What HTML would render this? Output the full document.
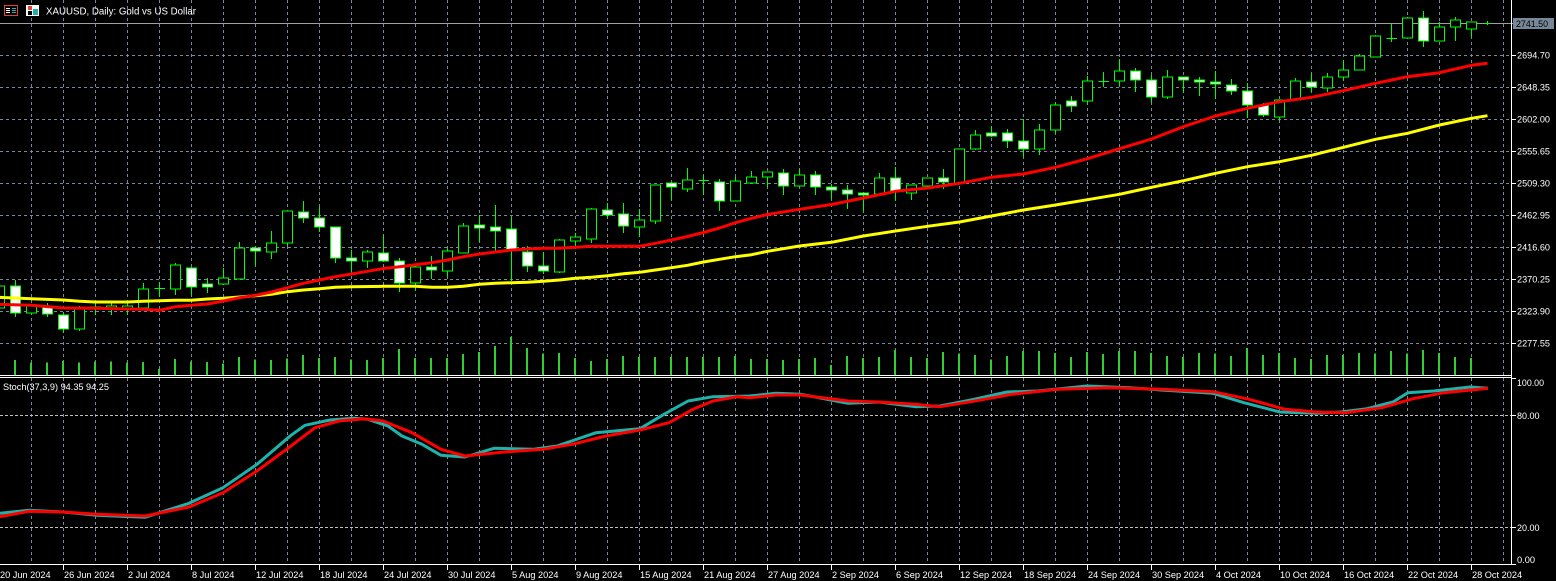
<!DOCTYPE html>
<html><head><meta charset="utf-8"><style>
html,body{margin:0;padding:0;background:#000;width:1556px;height:581px;overflow:hidden}
svg{display:block}
text{font-family:"Liberation Sans",Arial,sans-serif;fill:#fff}
</style></head><body>
<svg width="1556" height="581" viewBox="0 0 1556 581" xmlns="http://www.w3.org/2000/svg">
<rect width="1556" height="581" fill="#000"/>
<!-- vertical grid -->
<path stroke="#778899" stroke-width="1" stroke-dasharray="3,3" fill="none" shape-rendering="crispEdges" d="M31.5 0V564M63.5 0V564M95.5 0V564M127.5 0V564M159.5 0V564M191.5 0V564M223.5 0V564M255.5 0V564M287.5 0V564M319.5 0V564M351.5 0V564M383.5 0V564M415.5 0V564M447.5 0V564M479.5 0V564M511.5 0V564M543.5 0V564M575.5 0V564M607.5 0V564M639.5 0V564M671.5 0V564M703.5 0V564M735.5 0V564M767.5 0V564M799.5 0V564M831.5 0V564M863.5 0V564M895.5 0V564M927.5 0V564M959.5 0V564M991.5 0V564M1023.5 0V564M1055.5 0V564M1087.5 0V564M1119.5 0V564M1151.5 0V564M1183.5 0V564M1215.5 0V564M1247.5 0V564M1279.5 0V564M1311.5 0V564M1343.5 0V564M1375.5 0V564M1407.5 0V564M1439.5 0V564M1471.5 0V564M1503.5 0V564"/>
<!-- horizontal grid main -->
<path stroke="#778899" stroke-width="1" stroke-dasharray="3,3" fill="none" shape-rendering="crispEdges" d="M0 55.5H1511M0 87.5H1511M0 119.5H1511M0 151.5H1511M0 183.5H1511M0 215.5H1511M0 247.5H1511M0 279.5H1511M0 311.5H1511M0 343.5H1511"/>
<!-- stoch levels -->
<path stroke="#c0c0c0" stroke-width="1" stroke-dasharray="3,2" fill="none" shape-rendering="crispEdges" d="M0 415.5H1511M0 527.5H1511"/>
<!-- bid line -->
<path stroke="#a0a0a0" stroke-width="1" shape-rendering="crispEdges" d="M0 23.5H1513"/>

<!-- volumes -->
<path stroke="#32cd32" stroke-width="2" fill="none" shape-rendering="crispEdges" d="M15 360V375M31 362.7V375M47 362.7V375M63 361V375M79 362.7V375M95 361.7V375M111 361.7V375M127 362.7V375M143 362V375M159 369V375M175 359V375M191 361.7V375M207 362V375M223 363.7V375M239 357V375M255 359.7V375M271 360V375M287 358.7V375M303 355V375M319 358V375M335 357V375M351 359.7V375M367 360V375M383 358V375M399 349V375M415 358V375M431 358V375M447 358V375M463 354V375M479 352V375M495 346V375M511 337V375M527 348V375M543 353.7V375M559 353V375M575 358V375M591 361V375M607 359V375M623 356V375M639 357V375M655 357V375M671 357V375M687 357V375M703 357V375M719 357V375M735 356V375M751 359V375M767 359V375M783 360V375M799 359V375M815 358V375M831 365V375M847 356V375M863 358V375M879 357V375M895 350V375M911 357V375M927 358V375M943 352V375M959 353.7V375M975 355V375M991 359.7V375M1007 356V375M1023 351V375M1039 351V375M1055 353V375M1071 357V375M1087 352V375M1103 354V375M1119 351V375M1135 351V375M1151 353V375M1167 356V375M1183 357V375M1199 353V375M1215 353.7V375M1231 356V375M1247 348V375M1263 355V375M1279 353V375M1295 358V375M1311 359V375M1327 355V375M1343 355V375M1359 353V375M1375 353.7V375M1391 351V375M1407 353.7V375M1423 350V375M1439 353V375M1455 357V375M1471 358V375"/>

<!-- candles -->
<g stroke="#00ff00" stroke-width="1" shape-rendering="crispEdges">
<path d="M-0.5 282V312"/><rect x="-5.5" y="286" width="10" height="22" fill="#000"/>
<path d="M15.5 280V317"/><rect x="10.5" y="286" width="10" height="27" fill="#fff"/>
<path d="M31.5 304V314"/><rect x="26.5" y="306" width="10" height="7" fill="#000"/>
<path d="M47.5 303V317"/><rect x="42.5" y="306" width="10" height="8" fill="#fff"/>
<path d="M63.5 312V333"/><rect x="58.5" y="315" width="10" height="14" fill="#fff"/>
<path d="M79.5 306V331"/><rect x="74.5" y="309" width="10" height="20" fill="#000"/>
<path d="M95.5 300V315"/><rect x="90.5" y="307" width="10" height="2" fill="#000"/>
<path d="M111.5 303V315"/><rect x="106.5" y="306" width="10" height="2" fill="#000"/>
<path d="M127.5 300V315"/><rect x="122.5" y="306" width="10" height="2" fill="#000"/>
<path d="M143.5 283V310"/><rect x="138.5" y="289" width="10" height="19" fill="#000"/>
<path d="M159.5 282V297"/><path d="M154.5 288.5H165"/>
<path d="M175.5 263V295"/><rect x="170.5" y="265" width="10" height="24" fill="#000"/>
<path d="M191.5 267V295"/><rect x="186.5" y="268" width="10" height="19" fill="#fff"/>
<path d="M207.5 278V293"/><rect x="202.5" y="284" width="10" height="3" fill="#fff"/>
<path d="M223.5 268V285"/><rect x="218.5" y="278" width="10" height="6" fill="#000"/>
<path d="M239.5 242V279"/><rect x="234.5" y="248" width="10" height="31" fill="#000"/>
<path d="M255.5 246V266"/><rect x="250.5" y="248" width="10" height="3" fill="#fff"/>
<path d="M271.5 231V259"/><rect x="266.5" y="243" width="10" height="9" fill="#000"/>
<path d="M287.5 211V246"/><rect x="282.5" y="211" width="10" height="32" fill="#000"/>
<path d="M303.5 201V223"/><rect x="298.5" y="212" width="10" height="6" fill="#fff"/>
<path d="M319.5 207V232"/><rect x="314.5" y="218" width="10" height="9" fill="#fff"/>
<path d="M335.5 227V263"/><rect x="330.5" y="227" width="10" height="31" fill="#fff"/>
<path d="M351.5 250V272"/><rect x="346.5" y="258" width="10" height="3" fill="#fff"/>
<path d="M367.5 250V268"/><rect x="362.5" y="252" width="10" height="9" fill="#000"/>
<path d="M383.5 235V262"/><rect x="378.5" y="253" width="10" height="8" fill="#fff"/>
<path d="M399.5 258V292"/><rect x="394.5" y="261" width="10" height="22" fill="#fff"/>
<path d="M415.5 265V290"/><rect x="410.5" y="267" width="10" height="16" fill="#000"/>
<path d="M431.5 256V279"/><rect x="426.5" y="267" width="10" height="3" fill="#fff"/>
<path d="M447.5 248V277"/><rect x="442.5" y="251" width="10" height="20" fill="#000"/>
<path d="M463.5 223V253"/><rect x="458.5" y="226" width="10" height="27" fill="#000"/>
<path d="M479.5 215V242"/><rect x="474.5" y="225" width="10" height="3" fill="#fff"/>
<path d="M495.5 205V251"/><rect x="490.5" y="227" width="10" height="4" fill="#fff"/>
<path d="M511.5 217V281"/><rect x="506.5" y="229" width="10" height="21" fill="#fff"/>
<path d="M527.5 246V272"/><rect x="522.5" y="252" width="10" height="14" fill="#fff"/>
<path d="M543.5 252V274"/><rect x="538.5" y="266" width="10" height="5" fill="#fff"/>
<path d="M559.5 239V273"/><rect x="554.5" y="240" width="10" height="32" fill="#000"/>
<path d="M575.5 233V247"/><rect x="570.5" y="237" width="10" height="4" fill="#000"/>
<path d="M591.5 208V243"/><rect x="586.5" y="209" width="10" height="30" fill="#000"/>
<path d="M607.5 203V218"/><rect x="602.5" y="210" width="10" height="5" fill="#fff"/>
<path d="M623.5 203V233"/><rect x="618.5" y="214" width="10" height="12" fill="#fff"/>
<path d="M639.5 209V237"/><rect x="634.5" y="220" width="10" height="7" fill="#000"/>
<path d="M655.5 185V224"/><rect x="650.5" y="185" width="10" height="36" fill="#000"/>
<path d="M671.5 183V200"/><rect x="666.5" y="183" width="10" height="4" fill="#fff"/>
<path d="M687.5 168V192"/><rect x="682.5" y="180" width="10" height="9" fill="#000"/>
<path d="M703.5 175V195"/><path d="M698.5 180.5H709"/>
<path d="M719.5 179V211"/><rect x="714.5" y="182" width="10" height="19" fill="#fff"/>
<path d="M735.5 177V201"/><rect x="730.5" y="181" width="10" height="20" fill="#000"/>
<path d="M751.5 171V183"/><rect x="746.5" y="177" width="10" height="6" fill="#000"/>
<path d="M767.5 172V187"/><rect x="762.5" y="172" width="10" height="5" fill="#000"/>
<path d="M783.5 169V195"/><rect x="778.5" y="173" width="10" height="13" fill="#fff"/>
<path d="M799.5 169V187"/><rect x="794.5" y="175" width="10" height="11" fill="#000"/>
<path d="M815.5 171V195"/><rect x="810.5" y="175" width="10" height="12" fill="#fff"/>
<path d="M831.5 184V199"/><rect x="826.5" y="187" width="10" height="3" fill="#fff"/>
<path d="M847.5 185V209"/><rect x="842.5" y="190" width="10" height="4" fill="#fff"/>
<path d="M863.5 193V212"/><rect x="858.5" y="193" width="10" height="2" fill="#fff"/>
<path d="M879.5 173V194"/><rect x="874.5" y="178" width="10" height="16" fill="#000"/>
<path d="M895.5 167V201"/><rect x="890.5" y="178" width="10" height="13" fill="#fff"/>
<path d="M911.5 185V200"/><rect x="906.5" y="185" width="10" height="8" fill="#000"/>
<path d="M927.5 178V186"/><rect x="922.5" y="178" width="10" height="8" fill="#000"/>
<path d="M943.5 169V189"/><rect x="938.5" y="178" width="10" height="4" fill="#fff"/>
<path d="M959.5 149V183"/><rect x="954.5" y="149" width="10" height="34" fill="#000"/>
<path d="M975.5 130V150"/><rect x="970.5" y="135" width="10" height="14" fill="#000"/>
<path d="M991.5 126V137"/><rect x="986.5" y="133" width="10" height="3" fill="#fff"/>
<path d="M1007.5 129V148"/><rect x="1002.5" y="133" width="10" height="8" fill="#fff"/>
<path d="M1023.5 119V157"/><rect x="1018.5" y="141" width="10" height="8" fill="#fff"/>
<path d="M1039.5 124V155"/><rect x="1034.5" y="130" width="10" height="19" fill="#000"/>
<path d="M1055.5 102V133"/><rect x="1050.5" y="105" width="10" height="25" fill="#000"/>
<path d="M1071.5 96V112"/><rect x="1066.5" y="101" width="10" height="5" fill="#fff"/>
<path d="M1087.5 76V105"/><rect x="1082.5" y="81" width="10" height="20" fill="#000"/>
<path d="M1103.5 72V87"/><path d="M1098.5 81.5H1109"/>
<path d="M1119.5 59V86"/><rect x="1114.5" y="71" width="10" height="10" fill="#000"/>
<path d="M1135.5 68V92"/><rect x="1130.5" y="71" width="10" height="9" fill="#fff"/>
<path d="M1151.5 75V103"/><rect x="1146.5" y="80" width="10" height="17" fill="#fff"/>
<path d="M1167.5 70V99"/><rect x="1162.5" y="77" width="10" height="20" fill="#000"/>
<path d="M1183.5 77V93"/><rect x="1178.5" y="77" width="10" height="3" fill="#fff"/>
<path d="M1199.5 77V96"/><rect x="1194.5" y="80" width="10" height="2" fill="#fff"/>
<path d="M1215.5 71V99"/><rect x="1210.5" y="82" width="10" height="2" fill="#fff"/>
<path d="M1231.5 79V95"/><rect x="1226.5" y="85" width="10" height="6" fill="#fff"/>
<path d="M1247.5 83V118"/><rect x="1242.5" y="91" width="10" height="14" fill="#fff"/>
<path d="M1263.5 103V117"/><rect x="1258.5" y="105" width="10" height="10" fill="#fff"/>
<path d="M1279.5 100V121"/><rect x="1274.5" y="100" width="10" height="17" fill="#000"/>
<path d="M1295.5 78V100"/><rect x="1290.5" y="81" width="10" height="19" fill="#000"/>
<path d="M1311.5 73V92"/><rect x="1306.5" y="82" width="10" height="5" fill="#fff"/>
<path d="M1327.5 73V92"/><rect x="1322.5" y="77" width="10" height="11" fill="#000"/>
<path d="M1343.5 60V81"/><rect x="1338.5" y="70" width="10" height="7" fill="#000"/>
<path d="M1359.5 54V70"/><rect x="1354.5" y="56" width="10" height="14" fill="#000"/>
<path d="M1375.5 35V57"/><rect x="1370.5" y="36" width="10" height="21" fill="#000"/>
<path d="M1391.5 24V42"/><path d="M1386.5 38.5H1397"/>
<path d="M1407.5 17V38"/><rect x="1402.5" y="18" width="10" height="20" fill="#000"/>
<path d="M1423.5 11V47"/><rect x="1418.5" y="18" width="10" height="23" fill="#fff"/>
<path d="M1439.5 22V41"/><rect x="1434.5" y="27" width="10" height="14" fill="#000"/>
<path d="M1455.5 17V41"/><rect x="1450.5" y="20" width="10" height="7" fill="#000"/>
<path d="M1471.5 22V37"/><rect x="1466.5" y="22" width="10" height="7" fill="#000"/>
<path d="M1487.5 21V25"/><path d="M1484.5 23.5H1491"/>
</g>

<!-- moving averages -->
<polyline fill="none" stroke="#ffff00" stroke-width="3" stroke-linejoin="round" points="-0.5,297.3 31.5,298.7 63.5,300 79.5,301.3 95.5,302 127.5,302 143.5,301.3 175.5,300.3 191.5,300.3 207.5,299 223.5,298.3 239.5,297 255.5,295.7 271.5,294.3 287.5,291.7 303.5,290 319.5,288.7 335.5,287.3 351.5,286.7 383.5,286.3 415.5,286.3 431.5,287.3 447.5,287.3 463.5,286.3 479.5,284.3 495.5,283.3 511.5,282.7 527.5,282.3 543.5,281.3 559.5,280 575.5,278.3 591.5,277.3 607.5,275.7 623.5,273.7 639.5,272.3 655.5,270 671.5,267.7 687.5,265.3 703.5,262 719.5,259.3 735.5,256.7 751.5,254.7 767.5,251.3 799.5,246 831.5,242.3 863.5,236 895.5,231 927.5,226.3 959.5,222 991.5,216 1023.5,210 1055.5,205 1087.5,199.7 1119.5,194.3 1151.5,187.3 1183.5,180.7 1215.5,173.3 1247.5,166.7 1279.5,161.7 1311.5,155.3 1343.5,147.3 1375.5,139.3 1407.5,133.3 1439.5,125 1471.5,118.3 1487.5,115.7"/>
<polyline fill="none" stroke="#ff0000" stroke-width="3" stroke-linejoin="round" points="-0.5,304.3 31.5,305.3 63.5,308 95.5,308.3 127.5,309 143.5,309.3 159.5,310.3 175.5,306.7 191.5,305.3 207.5,304 223.5,301 239.5,297.7 255.5,295.3 271.5,292 287.5,287.7 303.5,283.3 319.5,280 335.5,276.7 351.5,274 367.5,271.3 383.5,268.5 399.5,266.7 415.5,264.7 431.5,262.7 447.5,260 463.5,256.7 479.5,254 495.5,252 511.5,250 527.5,249 543.5,248.3 559.5,248.3 575.5,247.3 591.5,246.3 639.5,246.3 655.5,243.3 671.5,240 687.5,236.5 703.5,232.5 719.5,228 735.5,222.7 751.5,218.3 767.5,214.5 799.5,209.3 831.5,204.5 863.5,198 895.5,191.3 927.5,188 959.5,183.3 991.5,177.3 1023.5,174 1055.5,167.3 1087.5,158.7 1119.5,148.7 1151.5,139 1183.5,126.7 1215.5,116 1247.5,108.3 1279.5,101.7 1311.5,97.3 1343.5,90.7 1375.5,83.3 1407.5,76.7 1439.5,72.7 1471.5,65.3 1487.5,63.3"/>

<!-- stochastic -->
<polyline fill="none" stroke="#20b2aa" stroke-width="3" stroke-linejoin="round" points="0,513.3 29,510.3 63,512 97,515.3 145,517.3 189,503.3 223,487.7 257,464.3 291,435.3 305,425.3 330,420 354,418.3 368,419.3 388,426 402,436 422,444.3 441,455.3 465,457 494,448.3 533,449.3 557,446 596,432.7 640,428.7 664,414.3 688,401 713,396.7 750,396 776,393.3 801,394.3 848,403.3 879,402 915,406.7 940,406 971,400 1007,392 1038,391 1087,386 1130,387.7 1161,390 1213,393.3 1244,402.7 1280,412 1316,413.3 1341,412 1367,408.7 1393,402 1408,392.7 1434,391 1470,387 1488,388.3"/>
<polyline fill="none" stroke="#ff0000" stroke-width="3" stroke-linejoin="round" points="0,516.7 29,511.3 63,512 97,514.3 145,516 189,507 223,492.7 257,471 291,446 315,427.7 339,421 364,418.7 383,421 412,432.7 441,449.3 465,456 504,452 543,449.3 572,444.3 606,436 640,430 669,422.7 693,409.3 713,401 737,396.7 750,397.7 776,395 801,395 848,401 879,402 915,404.3 940,406.7 971,401.7 1012,394.3 1058,389.3 1110,387.7 1161,389.3 1213,391.7 1249,399.3 1285,409.3 1316,412 1346,412.7 1382,407.7 1413,398.7 1444,392.7 1488,388.3"/>

<!-- frame lines -->
<path stroke="#ffffff" stroke-width="1" fill="none" shape-rendering="crispEdges" d="M0 375.5H1512M0 377.5H1512M0 564.5H1512M1511.5 0V565"/>
<!-- axis ticks -->
<path stroke="#ffffff" stroke-width="1" fill="none" shape-rendering="crispEdges" d="M1512 55.5H1516M1512 87.5H1516M1512 119.5H1516M1512 151.5H1516M1512 183.5H1516M1512 215.5H1516M1512 247.5H1516M1512 279.5H1516M1512 311.5H1516M1512 343.5H1516M1512 378.5H1516M1512 415.5H1516M1512 527.5H1516M1512 564.5H1516M-0.5 565V570M63.5 565V570M127.5 565V570M191.5 565V570M255.5 565V570M319.5 565V570M383.5 565V570M447.5 565V570M511.5 565V570M575.5 565V570M639.5 565V570M703.5 565V570M767.5 565V570M831.5 565V570M895.5 565V570M959.5 565V570M1023.5 565V570M1087.5 565V570M1151.5 565V570M1215.5 565V570M1279.5 565V570M1343.5 565V570M1407.5 565V570M1471.5 565V570"/>

<!-- price labels -->
<g font-size="9.2">
<text x="1517" y="58.5" textLength="33" lengthAdjust="spacingAndGlyphs">2694.70</text>
<text x="1517" y="90.5" textLength="33" lengthAdjust="spacingAndGlyphs">2648.35</text>
<text x="1517" y="122.5" textLength="33" lengthAdjust="spacingAndGlyphs">2602.00</text>
<text x="1517" y="154.5" textLength="33" lengthAdjust="spacingAndGlyphs">2555.65</text>
<text x="1517" y="186.5" textLength="33" lengthAdjust="spacingAndGlyphs">2509.30</text>
<text x="1517" y="218.5" textLength="33" lengthAdjust="spacingAndGlyphs">2462.95</text>
<text x="1517" y="250.5" textLength="33" lengthAdjust="spacingAndGlyphs">2416.60</text>
<text x="1517" y="282.5" textLength="33" lengthAdjust="spacingAndGlyphs">2370.25</text>
<text x="1517" y="314.5" textLength="33" lengthAdjust="spacingAndGlyphs">2323.90</text>
<text x="1517" y="346.5" textLength="33" lengthAdjust="spacingAndGlyphs">2277.55</text>
<text x="1517" y="386" textLength="27" lengthAdjust="spacingAndGlyphs">100.00</text>
<text x="1517" y="419" textLength="22.5" lengthAdjust="spacingAndGlyphs">80.00</text>
<text x="1517" y="531" textLength="22.5" lengthAdjust="spacingAndGlyphs">20.00</text>
<text x="1517" y="563" textLength="18" lengthAdjust="spacingAndGlyphs">0.00</text>
</g>
<rect x="1513" y="18" width="41" height="11" fill="#778899"/>
<text x="1516" y="27" font-size="9.2" textLength="32" lengthAdjust="spacingAndGlyphs" style="fill:#000">2741.50</text>

<!-- date labels -->
<g font-size="9.2">
<text x="0" y="578">20 Jun 2024</text>
<text x="64" y="578">26 Jun 2024</text>
<text x="128" y="578">2 Jul 2024</text>
<text x="192" y="578">8 Jul 2024</text>
<text x="256" y="578">12 Jul 2024</text>
<text x="320" y="578">18 Jul 2024</text>
<text x="384" y="578">24 Jul 2024</text>
<text x="448" y="578">30 Jul 2024</text>
<text x="512" y="578">5 Aug 2024</text>
<text x="576" y="578">9 Aug 2024</text>
<text x="640" y="578">15 Aug 2024</text>
<text x="704" y="578">21 Aug 2024</text>
<text x="768" y="578">27 Aug 2024</text>
<text x="832" y="578">2 Sep 2024</text>
<text x="896" y="578">6 Sep 2024</text>
<text x="960" y="578">12 Sep 2024</text>
<text x="1024" y="578">18 Sep 2024</text>
<text x="1088" y="578">24 Sep 2024</text>
<text x="1152" y="578">30 Sep 2024</text>
<text x="1216" y="578">4 Oct 2024</text>
<text x="1280" y="578">10 Oct 2024</text>
<text x="1344" y="578">16 Oct 2024</text>
<text x="1408" y="578">22 Oct 2024</text>
<text x="1472" y="578">28 Oct 2024</text>
</g>

<!-- title & icons -->
<rect x="4.5" y="5.5" width="13" height="10" fill="none" stroke="#e04040" stroke-width="1"/>
<path d="M6 8.5H10M6 10.5H10M6 12.5H10" stroke="#ffffff" stroke-width="1"/>
<path d="M12 8.5H16M12 10.5H16M12 12.5H16" stroke="#20b2aa" stroke-width="1"/>
<rect x="26" y="5" width="13" height="11" fill="#ffffff"/>
<rect x="28" y="6" width="4" height="4" fill="#e04040"/>
<rect x="33" y="9" width="5" height="6" fill="#20b2aa"/>
<rect x="28" y="11" width="4" height="4" fill="#000"/>
<text x="46" y="14.5" font-size="10" textLength="150" lengthAdjust="spacingAndGlyphs">XAUUSD, Daily:  Gold vs US Dollar</text>
<text x="3" y="390" font-size="9.5" textLength="106" lengthAdjust="spacingAndGlyphs">Stoch(37,3,9) 94.35 94.25</text>
</svg>
</body></html>
